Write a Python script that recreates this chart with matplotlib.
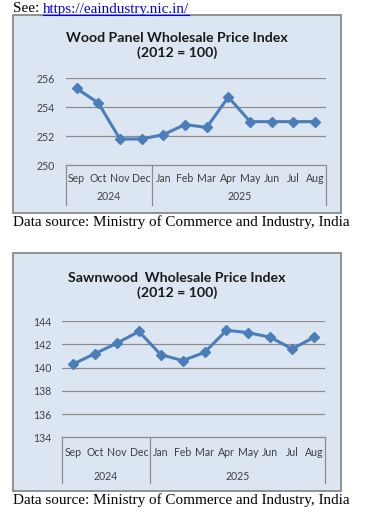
import matplotlib
matplotlib.use("Agg")
import matplotlib.pyplot as plt
from matplotlib.patches import Rectangle
from matplotlib.lines import Line2D

months = ["Sep", "Oct", "Nov", "Dec", "Jan", "Feb", "Mar", "Apr", "May", "Jun", "Jul", "Aug"]
years = ["2024", "2025"]
year_spans = [(0, 4), (4, 12)]
wood_panel = [255.3, 254.3, 251.8, 251.8, 252.1, 252.8, 252.6, 254.7, 253.0, 253.0, 253.0, 253.0]
sawnwood = [140.3, 141.2, 142.1, 143.1, 141.1, 140.6, 141.3, 143.2, 143.0, 142.6, 141.6, 142.6]
wp_ticks = [250, 252, 254, 256]
sw_ticks = [134, 136, 138, 140, 142, 144]
title1 = "Wood Panel Wholesale Price Index\n(2012 = 100)"
title2 = "Sawnwood  Wholesale Price Index\n(2012 = 100)"
source = "Data source: Ministry of Commerce and Industry, India"

W, H = 380, 521
fig = plt.figure(figsize=(W / 100, H / 100), dpi=100)
fig.patch.set_facecolor("white")

BG = "#dce6f2"
LINE = "#4a7ebb"
GRID = "#8c8c8c"
SANS = ["Lato", "DejaVu Sans"]
SERIF = ["Liberation Serif", "DejaVu Serif"]


def fx(x):
    return x / W


def fy(y):
    return 1 - y / H


def chart(box, plot, values, ticks, title, title_y, month_dy, year_dy, sep_dy):
    bx0, by0, bx1, by1 = box
    fig.add_artist(Rectangle((fx(bx0), fy(by1)), fx(bx1) - fx(bx0), fy(by0) - fy(by1),
                             transform=fig.transFigure, facecolor=BG, edgecolor="#8a8a8a",
                             linewidth=1.3, zorder=-5))
    px0, py0, px1, py1 = plot
    ax = fig.add_axes([fx(px0), fy(py1), fx(px1) - fx(px0), fy(py0) - fy(py1)])
    ax.set_zorder(2)
    ax.set_facecolor("none")
    hpx = py1 - py0
    n = len(values)
    xs = list(range(n))
    ax.plot(xs, values, color=LINE, linewidth=2.2, marker="D", markersize=5,
            markerfacecolor=LINE, markeredgecolor=LINE, zorder=3, clip_on=False)
    ax.set_xlim(-0.5, n - 0.5)
    ax.set_ylim(ticks[0], ticks[-1])
    ax.set_yticks(ticks)
    ax.set_yticklabels([str(t) for t in ticks], fontsize=7.6, family=SANS, color="#404040")
    ax.tick_params(axis="y", length=0, pad=8)
    for t in ticks[1:]:
        ax.axhline(t, color=GRID, linewidth=0.9, zorder=1)
    for s in ["top", "right", "left"]:
        ax.spines[s].set_visible(False)
    ax.spines["bottom"].set_color(GRID)
    ax.spines["bottom"].set_linewidth(0.9)
    ax.set_xticks([])
    xtr = ax.get_xaxis_transform()
    for i, m in enumerate(months):
        ax.text(i, -month_dy / hpx, m, transform=xtr, ha="center", va="center",
                fontsize=7.6, family=SANS, color="#404040")
    for (a, b), yr in zip(year_spans, years):
        ax.text((a + b - 1) / 2, -year_dy / hpx, yr, transform=xtr, ha="center", va="center",
                fontsize=7.6, family=SANS, color="#404040")
    for xb in [-0.5, 3.5, n - 0.5]:
        ax.add_line(Line2D([xb, xb], [0, -sep_dy / hpx], transform=xtr, color=GRID,
                           linewidth=0.9, clip_on=False))
    fig.text(fx((bx0 + bx1) / 2), fy(title_y), title, ha="center", va="center",
             fontsize=10.2, fontweight="bold", family=SANS, color="#1a1a1a", linespacing=1.25)
    return ax


chart((13, 15, 341, 213), (65.7, 78.3, 326, 165), wood_panel, wp_ticks, title1, 45.5,
      13, 32, 40)
chart((13, 253, 341, 491), (62.3, 321, 325, 437.3), sawnwood, sw_ticks, title2, 285.5,
      15.4, 38.7, 46)

see = fig.text(fx(13), fy(9), "See: ", ha="left", va="center", fontsize=10.9, family=SERIF,
               color="black")
fig.canvas.draw()
r = fig.canvas.get_renderer()
bb = see.get_window_extent(r)
link = fig.text(bb.x1 / W, fy(9), "https://eaindustry.nic.in/", ha="left", va="center",
                fontsize=10.9, family=SERIF, color="#0000ee")
fig.canvas.draw()
lb = link.get_window_extent(r)
fig.add_artist(Line2D([lb.x0 / W, lb.x1 / W], [fy(15), fy(15)], transform=fig.transFigure,
                      color="#0000ee", linewidth=0.8))

fig.text(fx(13), fy(222), source, ha="left", va="center", fontsize=10.9, family=SERIF, color="black")
fig.text(fx(13), fy(500.5), source, ha="left", va="center", fontsize=10.9, family=SERIF, color="black")

fig.savefig("out.png", dpi=100, facecolor="white")
